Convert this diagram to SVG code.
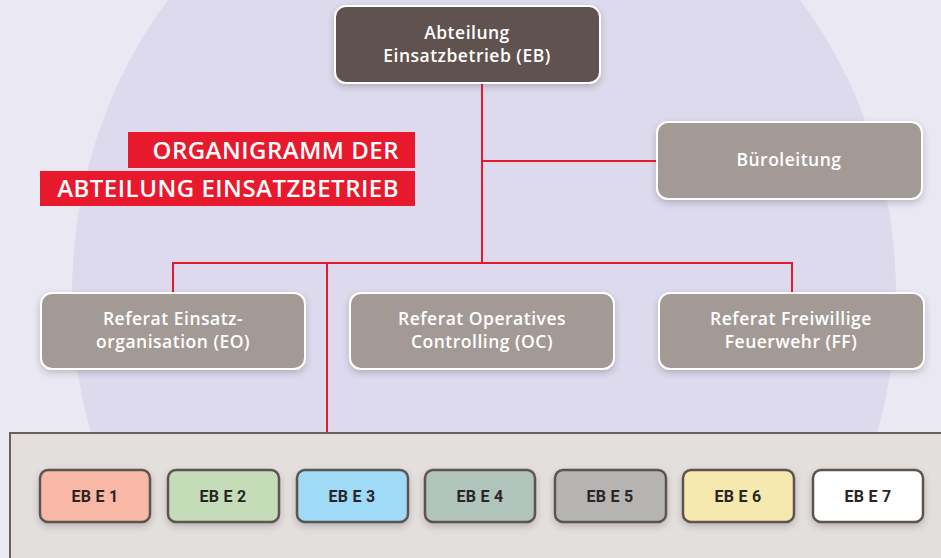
<svg xmlns="http://www.w3.org/2000/svg" width="941" height="558" viewBox="0 0 941 558">
<defs>
<filter id="sh" x="-20%" y="-20%" width="140%" height="150%">
<feDropShadow dx="0" dy="3" stdDeviation="3" flood-color="#3a3040" flood-opacity="0.25"/>
</filter>
<style>
.node{stroke:#ffffff;stroke-width:2;filter:url(#sh)}
.ref{fill:#a39a96}
.wt{fill:#ffffff;font-family:"Open Sans",Lato,sans-serif;font-weight:600;font-size:17.5px;letter-spacing:0.5px;text-anchor:middle}
.eb{stroke:#5f524f;stroke-width:2.5;filter:url(#sh)}
.et{fill:#2a2626;font-family:Roboto,"Liberation Sans",sans-serif;font-weight:700;font-size:16px;letter-spacing:0.3px;text-anchor:middle}
.con{stroke:#e8192c;stroke-width:2;fill:none}
.ttl{fill:#ffffff;font-family:"Open Sans",Lato,sans-serif;font-weight:600;font-size:24px;letter-spacing:0.5px;text-anchor:end}
</style>
</defs>
<rect x="0" y="0" width="941" height="558" fill="#e9e8f3"/>
<ellipse cx="484" cy="295" rx="412" ry="460" fill="#dcdaec"/>

<g id="connectors">
<path class="con" d="M482 83 V263"/>
<path class="con" d="M482 161 H657"/>
<path class="con" d="M173 263 H792"/>
<path class="con" d="M173 262 V293"/>
<path class="con" d="M792 262 V293"/>
<path class="con" d="M327 263 V434"/>
</g>

<g id="title">
<rect x="128" y="132" width="287" height="36" fill="#e8192c"/>
<rect x="40" y="171" width="375" height="35" fill="#e8192c"/>
<text class="ttl" x="399" y="159">ORGANIGRAMM DER</text>
<text class="ttl" x="399" y="197">ABTEILUNG EINSATZBETRIEB</text>
</g>

<g id="n-eb">
<rect class="node" x="335" y="6" width="265" height="77" rx="11" fill="#60524f"/>
<text class="wt" x="467" y="39">Abteilung</text>
<text class="wt" x="467" y="62">Einsatzbetrieb (EB)</text>
</g>

<g id="n-buero">
<rect class="node ref" x="657" y="122" width="265" height="77" rx="11"/>
<text class="wt" x="789" y="166">Büroleitung</text>
</g>

<g id="n-eo">
<rect class="node ref" x="41" y="293" width="264" height="76" rx="11"/>
<text class="wt" x="173" y="325">Referat Einsatz-</text>
<text class="wt" x="173" y="348">organisation (EO)</text>
</g>
<g id="n-oc">
<rect class="node ref" x="350" y="293" width="264" height="76" rx="11"/>
<text class="wt" x="482" y="325">Referat Operatives</text>
<text class="wt" x="482" y="348">Controlling (OC)</text>
</g>
<g id="n-ff">
<rect class="node ref" x="659" y="293" width="265" height="76" rx="11"/>
<text class="wt" x="791" y="325">Referat Freiwillige</text>
<text class="wt" x="791" y="348">Feuerwehr (FF)</text>
</g>

<g id="panel">
<rect x="10" y="433" width="940" height="140" fill="#e2dfdd" stroke="#6b5f5c" stroke-width="2"/>
</g>

<g id="ebe1"><rect class="eb" x="40" y="470" width="110" height="52" rx="8" fill="#f8b8a5"/><text class="et" x="95" y="502">EB E 1</text></g>
<g id="ebe2"><rect class="eb" x="168" y="470" width="111" height="52" rx="8" fill="#c5dcb8"/><text class="et" x="223" y="502">EB E 2</text></g>
<g id="ebe3"><rect class="eb" x="297" y="470" width="111" height="52" rx="8" fill="#9fdbf7"/><text class="et" x="352" y="502">EB E 3</text></g>
<g id="ebe4"><rect class="eb" x="425" y="470" width="110" height="52" rx="8" fill="#b0c4bb"/><text class="et" x="480" y="502">EB E 4</text></g>
<g id="ebe5"><rect class="eb" x="555" y="470" width="111" height="52" rx="8" fill="#b6b3b3"/><text class="et" x="610" y="502">EB E 5</text></g>
<g id="ebe6"><rect class="eb" x="683" y="470" width="111" height="52" rx="8" fill="#f5e9af"/><text class="et" x="738" y="502">EB E 6</text></g>
<g id="ebe7"><rect class="eb" x="813" y="470" width="110" height="52" rx="8" fill="#ffffff"/><text class="et" x="868" y="502">EB E 7</text></g>
</svg>
